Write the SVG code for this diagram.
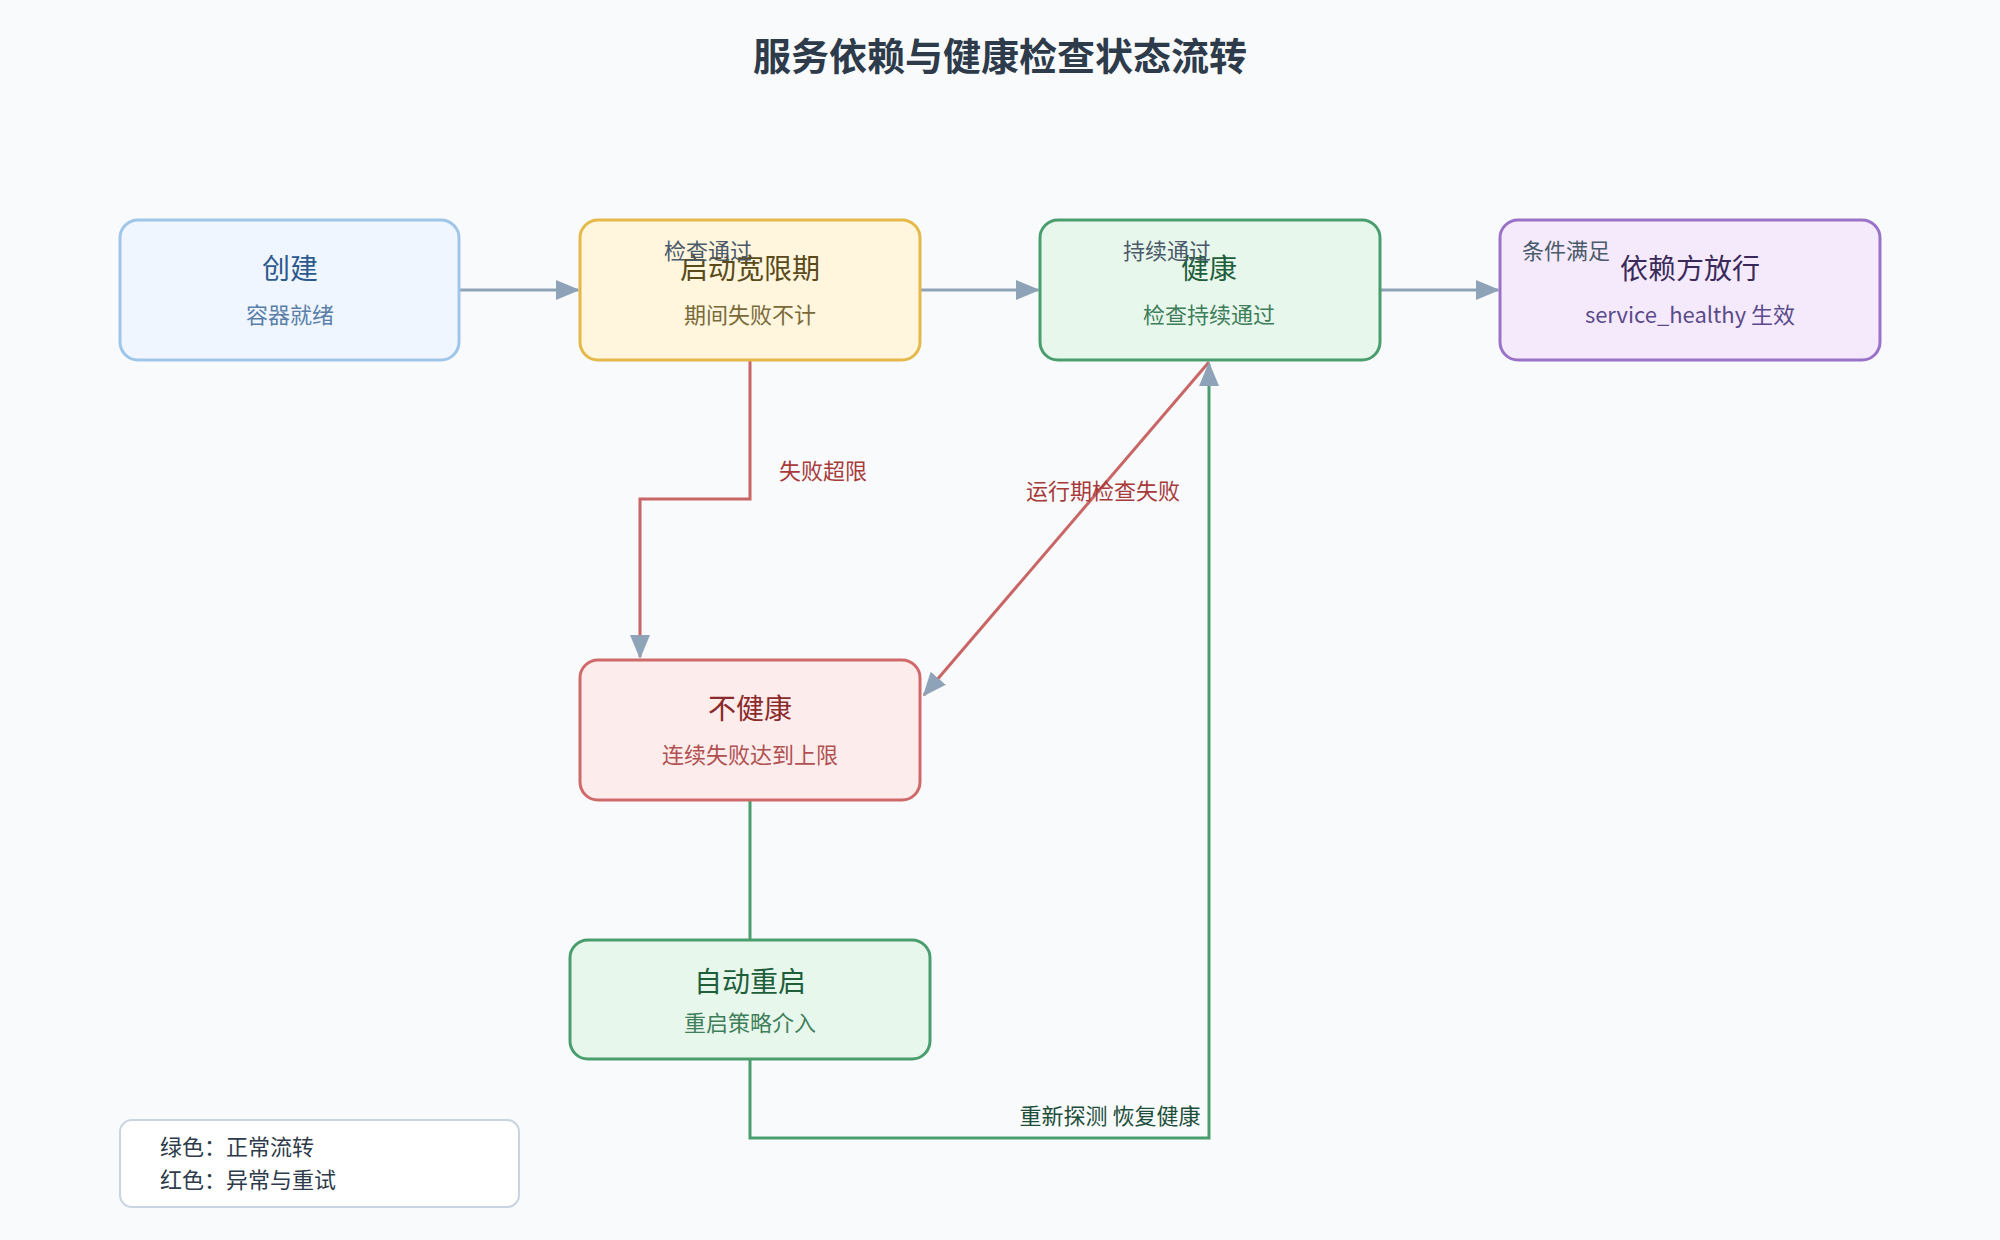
<svg xmlns="http://www.w3.org/2000/svg" width="2000" height="1240" viewBox="0 0 2000 1240">
<style>
text{font-family:"Noto Sans CJK SC","Noto Sans",sans-serif;text-anchor:middle}
.t{font-size:28px}.s{font-size:22px}.e{font-size:22px}
.c{fill:none;stroke-width:3}
</style>
<defs>
<marker id="a" viewBox="0 0 10 10" refX="9" refY="5" markerWidth="8" markerHeight="8" markerUnits="userSpaceOnUse" orient="auto" overflow="visible"><path d="M-14,-12 L10,5 L-14,22 Z" transform="scale(0.5) translate(10,5)" fill="#8fa3b8"/></marker>
<marker id="b" viewBox="0 0 24 24" refX="22" refY="12" markerWidth="24" markerHeight="24" markerUnits="userSpaceOnUse" orient="auto"><path d="M0,2 L24,12 L0,22 Z" fill="#8fa3b8"/></marker>
</defs>
<rect width="2000" height="1240" fill="#f8fafc"/>
<text x="1000" y="70" style="font-size:38px;font-weight:bold;fill:#2d3b4a">服务依赖与健康检查状态流转</text>
<g id="connectors">
<path class="c" d="M459,290 H578" stroke="#8fa3b8" marker-end="url(#b)"/>
<path class="c" d="M920,290 H1038" stroke="#8fa3b8" marker-end="url(#b)"/>
<path class="c" d="M1380,290 H1498" stroke="#8fa3b8" marker-end="url(#b)"/>
<path class="c" d="M750,360 V499 H640 V657" stroke="#c96565" marker-end="url(#b)"/>
<path class="c" d="M1209,362 L924,695" stroke="#c96565" marker-end="url(#b)"/>
<path class="c" d="M750,800 V940" stroke="#4a9e6e"/>
<path class="c" d="M750,1059 V1138 H1209 V364" stroke="#4a9e6e" marker-end="url(#b)"/>
<text class="e" x="823" y="479" fill="#a83a3a">失败超限</text>
<text class="e" x="1103" y="499" fill="#a83a3a">运行期检查失败</text>
<text class="e" x="1110" y="1124" fill="#1e4e3a">重新探测 恢复健康</text>
</g>
<g id="n1"><rect x="120" y="220" width="339" height="140" rx="18" fill="#eff6ff" stroke="#9fc5e8" stroke-width="3"/>
<text class="t" x="290" y="279" fill="#2c5a8c">创建</text><text class="s" x="290" y="323" fill="#5b7fa8">容器就绪</text></g>
<g id="n2"><rect x="580" y="220" width="340" height="140" rx="18" fill="#fff6dd" stroke="#e5b84a" stroke-width="3"/>
<text class="t" x="750" y="279" fill="#5a4a1a">启动宽限期</text><text class="s" x="750" y="323" fill="#7a6a3a">期间失败不计</text>
<text class="e" x="708" y="259" fill="#4a5a6a">检查通过</text></g>
<g id="n3"><rect x="1040" y="220" width="340" height="140" rx="18" fill="#e8f7ec" stroke="#4a9e6e" stroke-width="3"/>
<text class="t" x="1209" y="279" fill="#1e5e3a">健康</text><text class="s" x="1209" y="323" fill="#3e7e5a">检查持续通过</text>
<text class="e" x="1167" y="259" fill="#4a5a6a">持续通过</text></g>
<g id="n4"><rect x="1500" y="220" width="380" height="140" rx="18" fill="#f5eafc" stroke="#9a72c8" stroke-width="3"/>
<text class="t" x="1690" y="279" fill="#3a2a5a">依赖方放行</text><text class="s" x="1690" y="323" fill="#5a4a8a">service_healthy 生效</text>
<text class="e" x="1566" y="259" fill="#4a5a6a">条件满足</text></g>
<g id="n5"><rect x="580" y="660" width="340" height="140" rx="18" fill="#fdecec" stroke="#d06a6a" stroke-width="3"/>
<text class="t" x="750" y="719" fill="#8a2a2a">不健康</text><text class="s" x="750" y="763" fill="#b05050">连续失败达到上限</text></g>
<g id="n6"><rect x="570" y="940" width="360" height="119" rx="18" fill="#e8f7ec" stroke="#4a9e6e" stroke-width="3"/>
<text class="t" x="750" y="992" fill="#1e5e3a">自动重启</text><text class="s" x="750" y="1031" fill="#3e7e5a">重启策略介入</text></g>
<g id="legend"><rect x="120" y="1120" width="399" height="87" rx="12" fill="#ffffff" stroke="#c8d4e2" stroke-width="2"/>
<text x="160" y="1155" style="font-size:22px;text-anchor:start;fill:#2d3b4a">绿色：正常流转</text>
<text x="160" y="1188" style="font-size:22px;text-anchor:start;fill:#2d3b4a">红色：异常与重试</text></g>
</svg>
